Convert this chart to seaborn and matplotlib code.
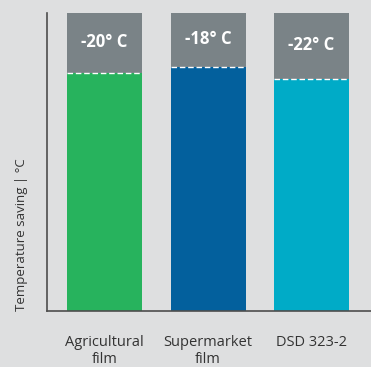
import matplotlib
matplotlib.use("Agg")
import matplotlib.pyplot as plt
import seaborn as sns
import pandas as pd

# ---- data ----
categories = ["Agricultural\nfilm", "Supermarket\nfilm", "DSD 323-2"]
reference_level = [100, 100, 100]          # full bar (grey part included)
temperature_saving = [20, 18, 22]          # grey top segment, °C
saving_labels = ["-20° C", "-18° C", "-22° C"]
bar_colors = ["#27b35d", "#03609d", "#00abc7"]

remaining = [r - s for r, s in zip(reference_level, temperature_saving)]

df = pd.DataFrame({"category": categories,
                   "reference": reference_level,
                   "remaining": remaining})

BG = "#dedfe0"
GREY = "#7a8387"
AXIS = "#4d4d4d"
TEXT = "#333333"

sns.set_theme(style="white")
plt.rcParams["font.family"] = ["Open Sans", "DejaVu Sans"]

fig = plt.figure(figsize=(3.71, 3.67), dpi=100, facecolor=BG)
ax = fig.add_axes([47 / 371, (367 - 311) / 367, (371 - 47) / 371, 298 / 367])
ax.set_facecolor(BG)

sns.barplot(data=df, x="category", y="reference", color=GREY,
            width=0.725, ax=ax, saturation=1, linewidth=0)
n = len(ax.patches)
sns.barplot(data=df, x="category", y="remaining", hue="category",
            palette=bar_colors, width=0.725, ax=ax, saturation=1,
            linewidth=0, legend=False)
grey_bars = ax.patches[:n]
color_bars = ax.patches[n:]

for gb, cb, lab in zip(grey_bars, color_bars, saving_labels):
    x0 = cb.get_x()
    w = cb.get_width()
    h = cb.get_height()
    top = gb.get_height()
    ax.hlines(h, x0, x0 + w, colors="white", linestyles=(0, (4, 2)),
              linewidth=1.0, zorder=5)
    ax.text(x0 + w / 2, (h + top) / 2 + 0.3, lab, ha="center", va="center",
            color="white", fontsize=12, fontweight="bold", zorder=6)

ax.set_ylim(0, 100)
ax.set_xlim(-0.556, 2.575)
ax.set_yticks([])
ax.set_xlabel("")
ax.set_ylabel("Temperature saving | °C", color=TEXT, fontsize=9.5,
              loc="bottom", labelpad=14)
ax.tick_params(axis="x", length=0, pad=17, labelsize=10.5, labelcolor=TEXT)
for lbl in ax.get_xticklabels():
    lbl.set_linespacing(1.2)

for side in ["top", "right"]:
    ax.spines[side].set_visible(False)
for side in ["left", "bottom"]:
    ax.spines[side].set_color(AXIS)
    ax.spines[side].set_linewidth(1.2)

fig.savefig("out.png", dpi=100, facecolor=BG)
